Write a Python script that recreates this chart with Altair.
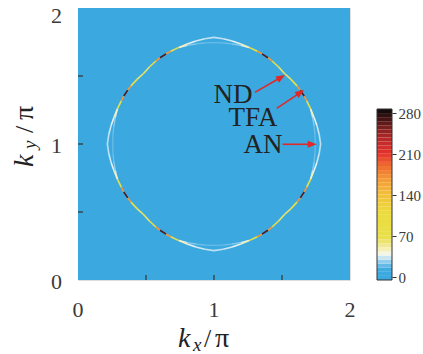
import math
import numpy as np
import altair as alt
import pandas as pd

# ---------------- colour bar ----------------
cbar_stops = [-5, 12, 22, 30, 38, 45, 55, 68, 110, 140, 165, 190, 210, 232, 252, 268, 287]
cbar_colors = ["#3aa8df", "#3eaadf", "#72c0e8", "#acdaf1", "#f2f7f4", "#f6f1c4", "#efe88e",
               "#e9e04a", "#ebdc3c", "#f3c13a", "#f59e37", "#ee6d30", "#e6332b", "#c12a28",
               "#8a2221", "#4a1615", "#0c0a0a"]
cbar_ticks = [0, 70, 140, 210, 280]
cbar_range = [-5, 287]
cbar_levels = 42
background_value = [0]

# ---------------- spectral ring, first quadrant about (pi, pi) ----------------
outer_theta = [0, 5, 10, 15, 20, 25, 28, 32, 35, 40, 45, 50, 55, 58, 62, 65, 70, 75, 80, 85, 90]
outer_r = [0.784, 0.777, 0.769, 0.761, 0.756, 0.752, 0.751, 0.748, 0.745, 0.739, 0.733,
           0.739, 0.745, 0.748, 0.751, 0.752, 0.756, 0.761, 0.769, 0.777, 0.784]
outer_val = [32, 34, 37, 46, 70, 170, 265, 170, 84, 62, 62, 84, 170, 265, 170, 70, 46, 37, 34, 32]

inner_theta_lo = [0, 5, 10, 15, 20]
inner_r_lo = [0.745, 0.746, 0.748, 0.751, 0.755]
inner_val_lo = [20, 22, 26, 34]
inner_theta_hi = [70, 75, 80, 85, 90]
inner_r_hi = [0.755, 0.751, 0.748, 0.746, 0.745]
inner_val_hi = [34, 26, 22, 20]

axis_ticks = [0.5, 1.0, 1.5]
label_ticks = [0, 1, 2]
label_text = ["0", "1", "2"]

# ---------------- annotations ----------------
ann_text = ["ND", "TFA", "AN"]
ann_x = [1.140, 1.287, 1.360]
ann_y = [1.360, 1.191, 0.993]
arrow_x0 = [1.301, 1.461, 1.505]
arrow_y0 = [1.380, 1.262, 0.998]
arrow_x1 = [1.522, 1.662, 1.755]
arrow_y1 = [1.507, 1.397, 0.998]

PX = 136.0  # pixels per unit (plot 272 px for 2 units)
quadrants = [(1, 1), (-1, 1), (-1, -1), (1, -1)]


def segments(theta, r, vals, curve):
    rows = []
    for sx, sy in quadrants:
        pts = [(1 + sx * ri * math.cos(math.radians(t)), 1 + sy * ri * math.sin(math.radians(t)))
               for t, ri in zip(theta, r)]
        for i, v in enumerate(vals):
            rows.append(dict(x=pts[i][0], y=pts[i][1], x2=pts[i + 1][0], y2=pts[i + 1][1],
                             val=v, curve=curve))
    return rows


inner_df = pd.DataFrame(segments(inner_theta_lo, inner_r_lo, inner_val_lo, "inner")
                        + segments(inner_theta_hi, inner_r_hi, inner_val_hi, "inner"))
outer_df = pd.DataFrame(segments(outer_theta, outer_r, outer_val, "outer"))
bg_df = pd.DataFrame({"x": [0.0], "x2": [2.0], "y": [0.0], "y2": [2.0], "val": background_value})

arrows = []
for i in range(len(ann_text)):
    dxp = (arrow_x1[i] - arrow_x0[i]) * PX
    dyp = -(arrow_y1[i] - arrow_y0[i]) * PX
    L = math.hypot(dxp, dyp)
    ux, uy = dxp / L, dyp / L
    ang = math.degrees(math.atan2(dyp, dxp)) % 360
    arrows.append(dict(x0=arrow_x0[i], y0=arrow_y0[i],
                       xs=arrow_x1[i] - 5 * ux / PX, ys=arrow_y1[i] + 5 * uy / PX,
                       x1=arrow_x1[i], y1=arrow_y1[i], ang=ang))
arrow_df = pd.DataFrame(arrows)
ann_df = pd.DataFrame({"t": ann_text, "x": ann_x, "y": ann_y})
lab_df = pd.DataFrame({"v": label_ticks, "t": label_text})

edges = np.linspace(cbar_range[0], cbar_range[1], cbar_levels + 1)
cbar_df = pd.DataFrame({"lo": edges[:-1], "hi": edges[1:], "mid": (edges[:-1] + edges[1:]) / 2})

SERIF = "Liberation Serif"
INK = "#3a3a3a"
xs = alt.Scale(domain=[0, 2], nice=False, zero=False)
ys = alt.Scale(domain=[0, 2], nice=False, zero=False)
cs = alt.Scale(domain=cbar_stops, range=cbar_colors, interpolate="rgb", nice=False, zero=False)


def X(f):
    return alt.X(f, scale=xs, axis=None)


def Y(f):
    return alt.Y(f, scale=ys, axis=None)


bg = alt.Chart(bg_df).mark_rect().encode(
    x=X("x:Q"), x2="x2:Q", y=Y("y:Q"), y2="y2:Q",
    color=alt.Color("val:Q", scale=cs, legend=None),
)


def ring(df, width):
    return alt.Chart(df).mark_rule(strokeWidth=width).encode(
        x=X("x:Q"), x2="x2:Q", y=Y("y:Q"), y2="y2:Q",
        color=alt.Color("val:Q", scale=cs, legend=None),
    )


ring_inner = ring(inner_df, 1.3)
ring_outer = ring(outer_df, 1.6)

tick_df = pd.DataFrame({"t": axis_ticks})
ticks_x = alt.Chart(tick_df).mark_rule(color="#333", strokeWidth=1.2).encode(
    x=X("t:Q"), y=alt.value(272), y2=alt.value(267))
ticks_y = alt.Chart(tick_df).mark_rule(color="#333", strokeWidth=1.2).encode(
    y=Y("t:Q"), x=alt.value(0), x2=alt.value(5))

# axis tick labels
xlab = alt.Chart(lab_df).mark_text(font=SERIF, fontSize=22, color=INK, align="center",
                                   baseline="alphabetic").encode(
    x=X("v:Q"), y=alt.value(309), text="t:N")
ylab_low = alt.Chart(lab_df[lab_df.v < 2]).mark_text(font=SERIF, fontSize=22, color=INK, align="right",
                                                  baseline="alphabetic", dy=9).encode(
    y=Y("v:Q"), x=alt.value(-16), text="t:N")
ylab_top = alt.Chart(lab_df[lab_df.v == 2]).mark_text(font=SERIF, fontSize=22, color=INK, align="right",
                                                   baseline="alphabetic", dy=15).encode(
    y=Y("v:Q"), x=alt.value(-16), text="t:N")

shafts = alt.Chart(arrow_df).mark_rule(color="#e0282a", strokeWidth=1.6).encode(
    x=X("x0:Q"), x2="xs:Q", y=Y("y0:Q"), y2="ys:Q")
heads = alt.Chart(arrow_df).mark_point(shape="M0,0L-2,-0.8L-2,0.8Z", filled=True, size=81,
                                       color="#e0282a", opacity=1).encode(
    x=X("x1:Q"), y=Y("y1:Q"), angle=alt.Angle("ang:Q", scale=None))

labels = alt.Chart(ann_df).mark_text(font=SERIF, fontSize=27, color="#222222").encode(
    x=X("x:Q"), y=Y("y:Q"), text="t:N")


def piece(txt, px, py, size, italic=False, angle=0):
    kw = dict(font=SERIF, fontSize=size, color="#222222", align="left", baseline="alphabetic")
    if italic:
        kw["fontStyle"] = "italic"
    if angle:
        kw["angle"] = angle
    return alt.Chart(pd.DataFrame({"t": [txt]})).mark_text(**kw).encode(
        x=alt.value(px), y=alt.value(py), text="t:N")


xtitle = [piece("k", 100, 339, 28, True), piece("x", 115, 343, 19, True),
          piece("/", 126, 339, 26), piece("π", 137, 339, 28)]
ytitle = [piece("k", -45, 159, 28, True, 270), piece("y", -42, 141, 19, True, 270),
          piece("/", -45, 125, 26, angle=270), piece("π", -45, 112, 28, angle=270)]

main = alt.layer(bg, ring_inner, ring_outer, ticks_x, ticks_y, xlab, ylab_low, ylab_top,
                 shafts, heads, labels, *xtitle, *ytitle)

cbar_axis = alt.Axis(orient="right", offset=42, values=cbar_ticks, format="d", ticks=True,
                     tickSize=4, tickColor="#333", tickWidth=1, domain=False, grid=False,
                     labelFont=SERIF, labelFontSize=15, labelColor=INK, labelPadding=2,
                     labelFlush=False, labelOverlap=False, title=None)
cbar_rects = alt.Chart(cbar_df).mark_rect().encode(
    x=alt.value(299), x2=alt.value(314),
    y=alt.Y("lo:Q", scale=alt.Scale(domain=cbar_range, range=[272, 101], nice=False, zero=False),
            axis=cbar_axis),
    y2="hi:Q",
    color=alt.Color("mid:Q", scale=cs, legend=None),
)
cbar_frame = alt.Chart(pd.DataFrame({"f": [0]})).mark_rect(
    fillOpacity=0, stroke="#333333", strokeWidth=1).encode(
    x=alt.value(299), x2=alt.value(314), y=alt.value(101), y2=alt.value(272))

chart = alt.layer(main, cbar_rects, cbar_frame).resolve_scale(y="independent").properties(
    width=272, height=272,
    autosize=alt.AutoSizeParams(type="none"),
    padding={"left": 78, "top": 8, "right": 73, "bottom": 74},
).configure_view(stroke="#333333", strokeWidth=1.5).configure(background="white")

chart.save("out.html", embed_options={"renderer": "svg", "actions": False})
